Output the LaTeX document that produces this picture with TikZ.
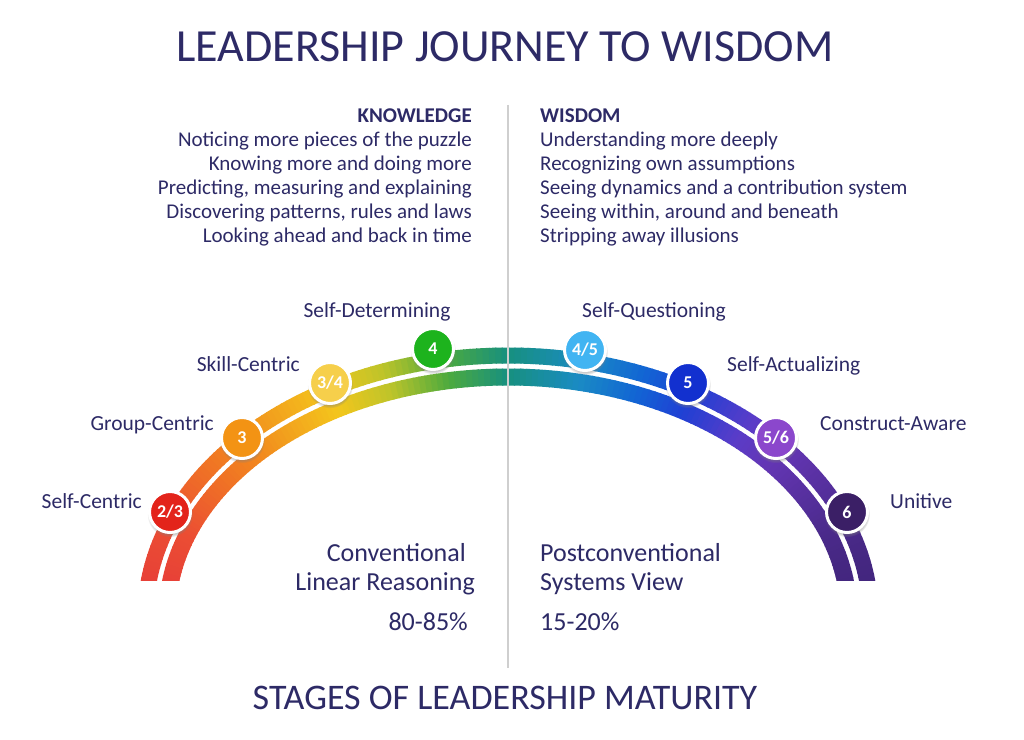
\documentclass[tikz,border=0pt]{standalone}
\usepackage{fontspec}
\setmainfont{Carlito}
\usetikzlibrary{calc,shadows,positioning}
\definecolor{ink}{HTML}{2D2A66}
\definecolor{rulegray}{HTML}{CFCFCF}
% colours along the arc
\definecolor{g0}{HTML}{E5383A}
\definecolor{g1}{HTML}{EB4E33}
\definecolor{g2}{HTML}{F2861E}
\definecolor{g3}{HTML}{F3C61C}
\definecolor{g4}{HTML}{BDC42A}
\definecolor{g5}{HTML}{4DAA3E}
\definecolor{g6}{HTML}{17907F}
\definecolor{g7}{HTML}{1A8BC4}
\definecolor{g8}{HTML}{1265D4}
\definecolor{g9}{HTML}{2040D4}
\definecolor{g10}{HTML}{5A3CC8}
\definecolor{g11}{HTML}{6436B4}
\definecolor{g12}{HTML}{4A2A8A}
\definecolor{g13}{HTML}{3E2376}
% colours of the stage discs
\definecolor{d23}{HTML}{E3241B}
\definecolor{d3}{HTML}{F39314}
\definecolor{d34}{HTML}{F6CF4B}
\definecolor{d4}{HTML}{1DB31D}
\definecolor{d45}{HTML}{41B4F2}
\definecolor{d5}{HTML}{1230CF}
\definecolor{d56}{HTML}{8B47CC}
\definecolor{d6}{HTML}{3B1F66}
\newcommand{\fs}[1]{\fontsize{#1}{#1}\selectfont}
\tikzset{
  stage/.style={circle, draw=white, line width=3pt, minimum size=41pt, inner sep=0pt,
    text=white, font=\fs{18}\bfseries,
    circular drop shadow={shadow xshift=0pt, shadow yshift=-2pt, shadow scale=1.12, opacity=0.45}},
  lbl/.style={text=ink, font=\fs{21.5}, inner sep=0pt},
  txt/.style={text=ink, font=\fs{21}, inner sep=0pt},
  big/.style={text=ink, font=\fs{26}, inner sep=0pt},
  outerband/.style={line width=16pt},
  innerband/.style={line width=17pt}
}
\begin{document}
\begin{tikzpicture}[x=1pt,y=1pt]
  \fill[white] (0,0) rectangle (1024,739);
  \useasboundingbox (0,0) rectangle (1024,739);
  \coordinate (C) at (508,123);

  % the two rainbow bands
  \begin{scope}
    \clip (0,159) rectangle (1024,739);
    \foreach \ta/\tb/\ca/\cb in {180/160/g0/g1, 160/138/g1/g2, 138/120/g2/g3, 120/110/g3/g4,
        110/100/g4/g5, 100/90/g5/g6, 90/78/g6/g7, 78/68/g7/g8, 68/59/g8/g9, 59/48/g9/g10,
        48/40/g10/g11, 40/20/g11/g12, 20/0/g12/g13}{
      \pgfmathtruncatemacro{\n}{\ta-\tb}
      \foreach \k in {1,...,\n}{
        \pgfmathsetmacro{\p}{100*(\k-0.5)/\n}
        \pgfmathsetmacro{\s}{\ta-\k+1}
        \draw[outerband, color=\cb!\p!\ca] ($(C)+(\s:362.5 and 260.5)$)
          arc[start angle=\s, delta angle=-1.2, x radius=362.5, y radius=260.5];
        \draw[innerband, color=\cb!\p!\ca] ($(C)+(\s:341 and 239)$)
          arc[start angle=\s, delta angle=-1.2, x radius=341, y radius=239];
      }
    }
  \end{scope}

  % divider
  \coordinate (top) at (508,634);
  \coordinate (bot) at (508,71);
  \draw[rulegray, line width=1.5pt] (top) -- (bot);

  % titles
  \node[text=ink, font=\fs{46}, inner sep=0pt] (title) at (505,692) {LEADERSHIP JOURNEY TO WISDOM};
  \node[text=ink, font=\fs{36}, inner sep=0pt] (subtitle) at (505,41) {STAGES OF LEADERSHIP MATURITY};

  % knowledge and wisdom
  \node[txt, font=\fs{21}\bfseries, anchor=base east] (know) at (472,616) {KNOWLEDGE};
  \foreach \t [count=\i] in {Noticing more pieces of the puzzle, Knowing more and doing more,
      {Predicting, measuring and explaining}, {Discovering patterns, rules and laws},
      Looking ahead and back in time}
    \node[txt, anchor=base east] (k\i) at (472,616-24*\i) {\t};
  \node[txt, font=\fs{21}\bfseries, anchor=base west] (wis) at (540,616) {WISDOM};
  \foreach \t [count=\i] in {Understanding more deeply, Recognizing own assumptions,
      Seeing dynamics and a contribution system, {Seeing within, around and beneath},
      Stripping away illusions}
    \node[txt, anchor=base west] (w\i) at (540,616-24*\i) {\t};

  % stage discs
  \node[stage, fill=d23] (s23) at (170,227) {2/3};
  \node[stage, fill=d3]  (s3)  at (242,301) {3};
  \node[stage, fill=d34] (s34) at (330,356) {3/4};
  \node[stage, fill=d4]  (s4)  at (433,390) {4};
  \node[stage, fill=d45] (s45) at (585,389) {4/5};
  \node[stage, fill=d5]  (s5)  at (688,356) {5};
  \node[stage, fill=d56] (s56) at (776,301) {5/6};
  \node[stage, fill=d6]  (s6)  at (847,227) {6};

  % stage names
  \node[lbl, anchor=base east] (n23) at (142,230) {Self-Centric};
  \node[lbl, anchor=base east] (n3)  at (214,308) {Group-Centric};
  \node[lbl, anchor=base east] (n34) at (300,367) {Skill-Centric};
  \node[lbl, anchor=base]      (n4)  at (377,421) {Self-Determining};
  \node[lbl, anchor=base]      (n45) at (654,421) {Self-Questioning};
  \node[lbl, anchor=base west] (n5)  at (727,367) {Self-Actualizing};
  \node[lbl, anchor=base west] (n56) at (820,308) {Construct-Aware};
  \node[lbl, anchor=base west] (n6)  at (890,230) {Unitive};

  % the two groups
  \node[big, anchor=base east] (conv)  at (466,178) {Conventional};
  \node[big, anchor=base east] (lin)   at (475,149) {Linear Reasoning};
  \node[big, anchor=base east] (pc1)   at (468,109) {80-85\%};
  \node[big, anchor=base west] (post)  at (540,178) {Postconventional};
  \node[big, anchor=base west] (sys)   at (540,149) {Systems View};
  \node[big, anchor=base west] (pc2)   at (540,109) {15-20\%};
\end{tikzpicture}
\end{document}
